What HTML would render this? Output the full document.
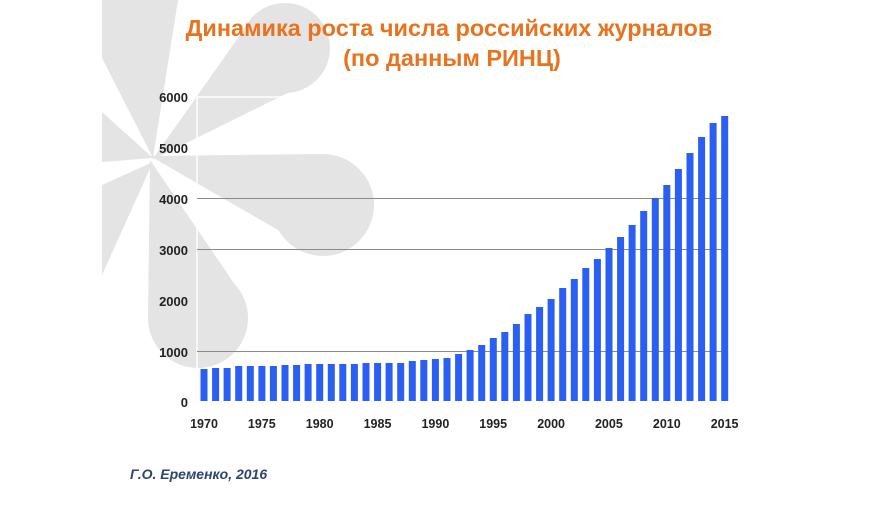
<!DOCTYPE html>
<html><head><meta charset="utf-8"><style>
html,body{margin:0;padding:0;background:#fff;}
svg{display:block;}
</style></head><body>
<svg width="895" height="505" xmlns="http://www.w3.org/2000/svg">
<rect width="895" height="505" fill="#fff"/>
<g fill="#e4e4e4">
<polygon points="102,0 178,0 153,158 102,58"/>
<polygon points="102,112 153,158 102,162"/>
<polygon points="102,185 153,162 102,275"/>
<polygon points="152,160 252,18 318,78"/>
<circle cx="285" cy="48" r="45"/>
<polygon points="150,156 323,154 323,256"/>
<circle cx="323" cy="205" r="51"/>
<polygon points="150,160 148,318 242,295"/>
<circle cx="198" cy="318" r="50"/>
</g>
<g font-family="'Liberation Sans','DejaVu Sans',sans-serif" font-weight="bold" fill="#e8731e" font-size="23.5" text-anchor="middle">
<text x="449" y="36">Динамика роста числа российских журналов</text>
<text x="452" y="66">(по данным РИНЦ)</text>
</g>
<line x1="197" y1="97" x2="197" y2="401" stroke="#fff" stroke-width="1.5"/>
<line x1="197" y1="97" x2="728" y2="97" stroke="#fff" stroke-width="1.5"/>
<line x1="197" y1="148" x2="728" y2="148" stroke="#fff" stroke-width="1.5"/>
<g stroke="#8a8a8a" stroke-width="1">
<line x1="197" y1="198.5" x2="728" y2="198.5"/>
<line x1="197" y1="249.5" x2="728" y2="249.5"/>
<line x1="197" y1="351.5" x2="728" y2="351.5"/>
</g>
<g font-family="'Liberation Sans',sans-serif" font-weight="bold" font-size="13" fill="#222" text-anchor="end">
<text x="188" y="102">6000</text>
<text x="188" y="153">5000</text>
<text x="188" y="204">4000</text>
<text x="188" y="255">3000</text>
<text x="188" y="306">2000</text>
<text x="188" y="357">1000</text>
<text x="188" y="407">0</text>
</g>
<g font-family="'Liberation Sans',sans-serif" font-weight="bold" font-size="12.5" fill="#222" text-anchor="middle">
<text x="204" y="428">1970</text>
<text x="261.8" y="428">1975</text>
<text x="319.7" y="428">1980</text>
<text x="377.5" y="428">1985</text>
<text x="435.4" y="428">1990</text>
<text x="493.2" y="428">1995</text>
<text x="551.1" y="428">2000</text>
<text x="608.9" y="428">2005</text>
<text x="666.8" y="428">2010</text>
<text x="724.6" y="428">2015</text>
</g>
<text x="130" y="479" font-family="'Liberation Sans',sans-serif" font-weight="bold" font-style="italic" font-size="14" fill="#2e4470">Г.О. Еременко, 2016</text>
<g fill="#2b5ff2">
<rect x="200.5" y="369" width="7" height="32"/>
<rect x="212.1" y="368" width="7" height="33"/>
<rect x="223.6" y="368" width="7" height="33"/>
<rect x="235.2" y="366" width="7" height="35"/>
<rect x="246.8" y="366" width="7" height="35"/>
<rect x="258.4" y="366" width="7" height="35"/>
<rect x="269.9" y="366" width="7" height="35"/>
<rect x="281.5" y="365" width="7" height="36"/>
<rect x="293.1" y="365" width="7" height="36"/>
<rect x="304.6" y="364" width="7" height="37"/>
<rect x="316.2" y="364" width="7" height="37"/>
<rect x="327.8" y="364" width="7" height="37"/>
<rect x="339.3" y="364" width="7" height="37"/>
<rect x="350.9" y="364" width="7" height="37"/>
<rect x="362.5" y="363" width="7" height="38"/>
<rect x="374.1" y="363" width="7" height="38"/>
<rect x="385.6" y="363" width="7" height="38"/>
<rect x="397.2" y="363" width="7" height="38"/>
<rect x="408.8" y="361" width="7" height="40"/>
<rect x="420.3" y="360" width="7" height="41"/>
<rect x="431.9" y="359" width="7" height="42"/>
<rect x="443.5" y="358" width="7" height="43"/>
<rect x="455.1" y="354" width="7" height="47"/>
<rect x="466.6" y="350" width="7" height="51"/>
<rect x="478.2" y="345" width="7" height="56"/>
<rect x="489.8" y="338" width="7" height="63"/>
<rect x="501.3" y="332" width="7" height="69"/>
<rect x="512.9" y="324" width="7" height="77"/>
<rect x="524.5" y="314" width="7" height="87"/>
<rect x="536.1" y="307" width="7" height="94"/>
<rect x="547.6" y="299" width="7" height="102"/>
<rect x="559.2" y="288" width="7" height="113"/>
<rect x="570.8" y="279" width="7" height="122"/>
<rect x="582.3" y="268" width="7" height="133"/>
<rect x="593.9" y="259" width="7" height="142"/>
<rect x="605.5" y="248" width="7" height="153"/>
<rect x="617.1" y="237" width="7" height="164"/>
<rect x="628.6" y="225" width="7" height="176"/>
<rect x="640.2" y="211" width="7" height="190"/>
<rect x="651.8" y="198" width="7" height="203"/>
<rect x="663.3" y="185" width="7" height="216"/>
<rect x="674.9" y="169" width="7" height="232"/>
<rect x="686.5" y="153" width="7" height="248"/>
<rect x="698.1" y="137" width="7" height="264"/>
<rect x="709.6" y="123" width="7" height="278"/>
<rect x="721.2" y="116" width="7" height="285"/>
</g>
</svg>
</body></html>
